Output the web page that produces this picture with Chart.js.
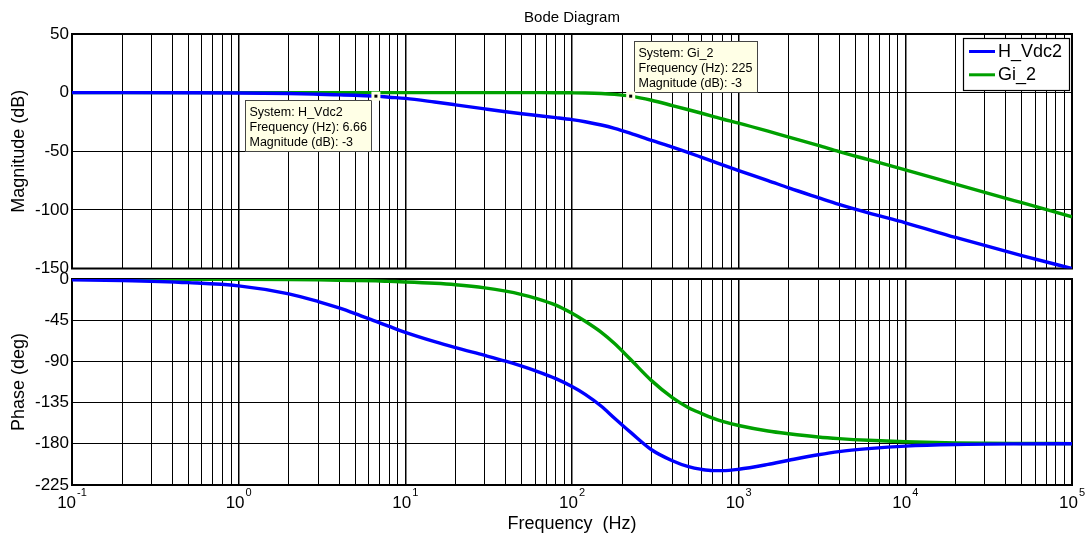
<!DOCTYPE html>
<html>
<head>
<meta charset="utf-8">
<title>Bode Diagram</title>
<script src="https://cdn.jsdelivr.net/npm/chart.js@4.4.1/dist/chart.umd.min.js"></script>
<style>
  html, body { margin: 0; padding: 0; background: #ffffff; }
  #wrap { position: relative; width: 1091px; height: 537px; overflow: hidden; }
  #wrap canvas { position: absolute; left: 0; }
</style>
</head>
<body>
<div id="wrap">
  <canvas id="mag" width="1091" height="282" style="top:0px"></canvas>
  <canvas id="phase" width="1091" height="282" style="top:255px"></canvas>
</div>
<script>
// Frequency samples (Hz) shared by all four responses
const freqHz = [0.1, 0.2, 0.5, 1, 2, 3, 4, 5, 6.66, 8,
                10, 15, 20, 30, 40, 50, 60, 80, 100, 120,
                150, 180, 225, 300, 400, 500, 600, 700, 800, 1000,
                1500, 2000, 3000, 4000, 6000, 10000, 20000, 50000, 100000];

// Magnitude (dB)
const magHVdc2 = [0, 0, -0.1, -0.3, -0.8, -1.4, -1.9, -2.3, -3, -3.9,
                  -4.9, -8, -10.4, -13.9, -16.3, -18, -19.3, -21.3, -23, -24.8,
                  -27.6, -30.5, -34.8, -40.8, -46.5, -51.2, -55.2, -58.6, -61.6, -66.5,
                  -75, -81.3, -89.6, -95.4, -102.6, -111, -123.5, -139, -150];
const magGi2 = [0, 0, 0, 0, 0, 0, 0, 0, 0, 0,
                0, 0, 0, 0, 0, 0, -0.02, -0.07, -0.17, -0.34,
                -0.8, -1.5, -3, -6.5, -11, -14.6, -17.6, -20.2, -22.5, -26,
                -32.9, -38, -45, -50.3, -57.2, -65.9, -78, -93.9, -105.9];

// Phase (deg)
const phaseHVdc2 = [-0.8, -1.6, -4, -7.5, -16.2, -24.6, -31.6, -37.8, -46.3, -51.8,
                    -58.3, -68.5, -75, -83.5, -89.8, -95.2, -100.1, -108.8, -117.5, -126,
                    -139, -152, -167.5, -186.5, -198.5, -205, -208, -209.3, -209.3, -207.8,
                    -202.5, -198, -192, -188.5, -185.3, -182.5, -180.8, -180.1, -180];
const phaseGi2 = [0, -0.1, -0.2, -0.35, -0.65, -1, -1.3, -1.6, -2.1, -2.6,
                  -3.2, -4.7, -6.3, -9.7, -13.3, -17, -20.8, -28.6, -37.5, -46.2,
                  -58.3, -70.5, -88, -111, -129.5, -140.5, -147, -152, -155.5, -160,
                  -166, -169, -172.5, -174.3, -176.2, -177.8, -179, -179.6, -179.8];

// Axis ticks
const decadeExponents = [-1, 0, 1, 2, 3, 4, 5];
const magTicks = [50, 0, -50, -100, -150];
const phaseTicks = [0, -45, -90, -135, -180, -225];

// Data cursors shown on the magnitude plot
const dataTips = [
  { series: 'H_Vdc2', freq: 6.66, mag: -3, place: 'below-left' },
  { series: 'Gi_2', freq: 225, mag: -3, place: 'above-right' }
];

const seriesNames = ['H_Vdc2', 'Gi_2'];
const seriesColors = ['#0000ff', '#00a000'];

const FONT = '"Liberation Sans", Arial, Helvetica, sans-serif';
Chart.defaults.font.family = FONT;
Chart.defaults.color = '#000000';

// log grid: 1..9 x each decade, up to the last decade
const gridFreqs = [];
decadeExponents.forEach((e, i) => {
  const base = Math.pow(10, e);
  const last = i === decadeExponents.length - 1 ? 1 : 9;
  for (let m = 1; m <= last; m++) gridFreqs.push(+(m * base).toPrecision(6));
});

const pts = arr => freqHz.map((f, i) => ({ x: f, y: arr[i] }));
const isDecade = v => Math.abs(Math.log10(v) - Math.round(Math.log10(v))) < 1e-9;

function lineSet(i, values) {
  return {
    label: seriesNames[i],
    data: pts(values),
    borderColor: seriesColors[i],
    backgroundColor: seriesColors[i],
    borderWidth: 3.4,
    pointRadius: 0,
    fill: false,
    cubicInterpolationMode: 'monotone'
  };
}

function xScale(bottomAxis) {
  const s = {
    type: 'logarithmic',
    min: 0.1,
    max: 100000,
    afterBuildTicks: sc => { sc.ticks = gridFreqs.map(v => ({ value: v })); },
    ticks: { display: false },
    grid: {
      color: '#000000',
      lineWidth: c => (c.tick && isDecade(c.tick.value) ? 1.5 : 1),
      drawTicks: false
    },
    border: { display: false }
  };
  if (bottomAxis) {
    s.afterFit = sc => { sc.height = 52; };
    s.title = {
      display: true,
      text: 'Frequency  (Hz)',
      color: '#000000',
      font: { size: 18 },
      padding: { top: 0, bottom: 2 }
    };
  } else {
    s.afterFit = sc => { sc.height = 0; };
  }
  return s;
}

function yScale(min, max, tickList, label) {
  return {
    min: min,
    max: max,
    afterBuildTicks: sc => { sc.ticks = tickList.map(v => ({ value: v })); },
    afterFit: sc => { sc.width = 72; },
    ticks: { color: '#000000', font: { size: 17 }, padding: 3 },
    grid: { color: '#000000', lineWidth: 1, drawTicks: false },
    border: { display: false },
    title: {
      display: true,
      text: label,
      color: '#000000',
      font: { size: 18 },
      padding: { top: 8, bottom: 0 }
    }
  };
}

// axes box around each plot, drawn under the curves
const framePlugin = {
  id: 'frame',
  beforeDatasetsDraw(chart) {
    const { ctx, chartArea: a } = chart;
    ctx.save();
    ctx.strokeStyle = '#000000';
    ctx.lineWidth = 2;
    ctx.strokeRect(a.left, a.top, a.right - a.left, a.bottom - a.top);
    ctx.restore();
  }
};

// title, data cursors and legend on the magnitude plot
const magOverlay = {
  id: 'magOverlay',
  afterDatasetsDraw(chart) {
    const { ctx, chartArea: a, scales } = chart;
    ctx.save();

    ctx.fillStyle = '#000000';
    ctx.font = '15px ' + FONT;
    ctx.textAlign = 'center';
    ctx.textBaseline = 'middle';
    ctx.fillText('Bode Diagram', (a.left + a.right) / 2, 18);

    dataTips.forEach(t => {
      const px = scales.x.getPixelForValue(t.freq);
      const py = scales.y.getPixelForValue(t.mag);
      const lines = ['System: ' + t.series, 'Frequency (Hz): ' + t.freq, 'Magnitude (dB): ' + t.mag];
      ctx.font = '12.5px ' + FONT;
      const w = Math.round(Math.max(...lines.map(l => ctx.measureText(l).width)) + 9);
      const h = 51;
      let bx, by;
      if (t.place === 'below-left') { bx = Math.round(px - 4.5 - w); by = Math.round(py + 3.5); }
      else { bx = Math.round(px + 3); by = Math.round(py - 4 - h); }
      ctx.fillStyle = '#ffffe6';
      ctx.fillRect(bx, by, w, h);
      ctx.strokeStyle = '#444444';
      ctx.lineWidth = 1;
      ctx.strokeRect(bx + 0.5, by + 0.5, w, h);
      ctx.fillStyle = '#000000';
      ctx.textAlign = 'left';
      ctx.textBaseline = 'middle';
      lines.forEach((l, i) => ctx.fillText(l, bx + 4.5, by + 12.5 + i * 15));
      // cursor marker
      ctx.fillStyle = '#ffffe6';
      ctx.fillRect(px - 4.5, py - 4.5, 9, 9);
      ctx.fillStyle = '#000000';
      ctx.fillRect(px - 1.5, py - 1.5, 3, 3);
    });

    // legend box in the upper right corner
    const lw = 106, lh = 52;
    const lx = Math.round(a.right - 3 - lw), ly = Math.round(a.top + 4);
    ctx.fillStyle = '#ffffff';
    ctx.fillRect(lx, ly, lw, lh);
    ctx.strokeStyle = '#000000';
    ctx.lineWidth = 1.2;
    ctx.strokeRect(lx + 0.5, ly + 0.5, lw, lh);
    chart.data.datasets.forEach((ds, i) => {
      const yy = ly + 13.5 + i * 23.3;
      ctx.strokeStyle = ds.borderColor;
      ctx.lineWidth = 3;
      ctx.beginPath();
      ctx.moveTo(lx + 6, yy);
      ctx.lineTo(lx + 32, yy);
      ctx.stroke();
      ctx.fillStyle = '#000000';
      ctx.font = '18px ' + FONT;
      ctx.textAlign = 'left';
      ctx.textBaseline = 'middle';
      ctx.fillText(ds.label, lx + 35, yy + 0.5);
    });
    ctx.restore();
  }
};

// decade labels 10^n under the phase plot
const decadeLabels = {
  id: 'decadeLabels',
  afterDraw(chart) {
    const { ctx, chartArea: a, scales } = chart;
    ctx.save();
    ctx.fillStyle = '#000000';
    ctx.textAlign = 'left';
    ctx.textBaseline = 'middle';
    decadeExponents.forEach(e => {
      const x = scales.x.getPixelForValue(Math.pow(10, e));
      const baseFont = '17px ' + FONT, supFont = '11px ' + FONT;
      ctx.font = baseFont;
      const w1 = ctx.measureText('10').width;
      ctx.font = supFont;
      const w2 = ctx.measureText(String(e)).width;
      const x0 = x - (w1 + w2 + 1) / 2;
      ctx.font = baseFont;
      ctx.fillText('10', x0, a.bottom + 18.5);
      ctx.font = supFont;
      ctx.fillText(String(e), x0 + w1 + 1, a.bottom + 7.5);
    });
    ctx.restore();
  }
};

const common = {
  responsive: false,
  animation: false,
  events: [],
  plugins: { legend: { display: false }, tooltip: { enabled: false }, title: { display: false } },
  elements: { point: { radius: 0 } }
};

new Chart(document.getElementById('mag'), {
  type: 'line',
  data: { datasets: [lineSet(0, magHVdc2), lineSet(1, magGi2)] },
  options: Object.assign({}, common, {
    layout: { padding: { top: 34, left: 0, right: 19, bottom: 13.5 } },
    scales: { x: xScale(false), y: yScale(-150, 50, magTicks, 'Magnitude (dB)') }
  }),
  plugins: [framePlugin, magOverlay]
});

new Chart(document.getElementById('phase'), {
  type: 'line',
  data: { datasets: [lineSet(0, phaseHVdc2), lineSet(1, phaseGi2)] },
  options: Object.assign({}, common, {
    layout: { padding: { top: 24, left: 0, right: 19, bottom: 0 } },
    scales: { x: xScale(true), y: yScale(-225, 0, phaseTicks, 'Phase (deg)') }
  }),
  plugins: [framePlugin, decadeLabels]
});
</script>
</body>
</html>
